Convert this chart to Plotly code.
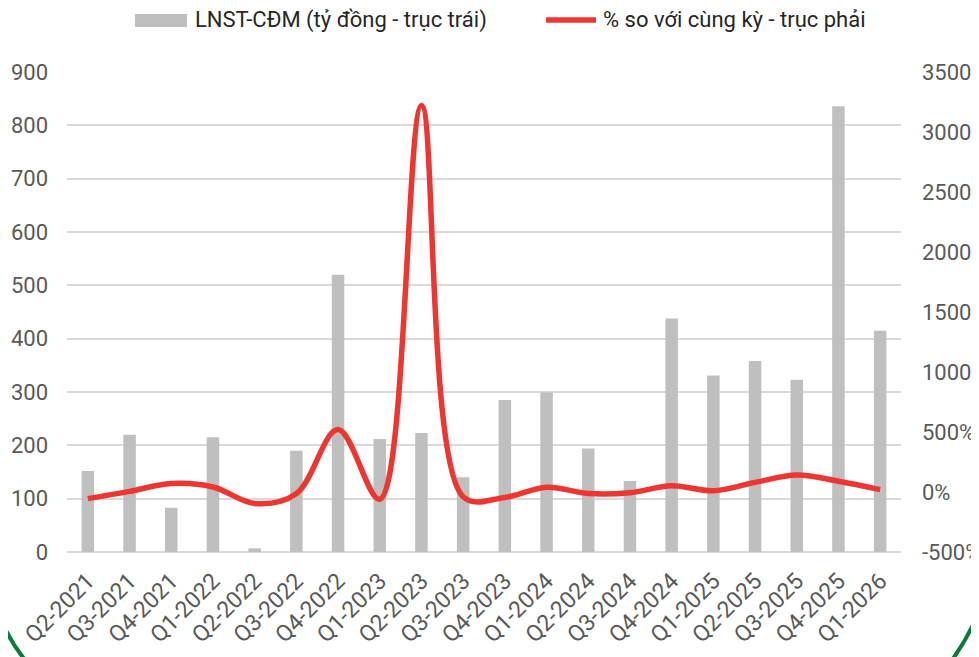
import plotly.graph_objects as go

quarters = ["Q2-2021", "Q3-2021", "Q4-2021", "Q1-2022", "Q2-2022", "Q3-2022", "Q4-2022",
            "Q1-2023", "Q2-2023", "Q3-2023", "Q4-2023", "Q1-2024", "Q2-2024", "Q3-2024",
            "Q4-2024", "Q1-2025", "Q2-2025", "Q3-2025", "Q4-2025", "Q1-2026"]

profit = [152, 220, 83, 215, 7, 190, 520, 212, 223, 140, 285, 299, 194, 133, 438, 331, 358, 323, 836, 415]
yoy_pct = [-55, 5, 70, 42, -95, -14, 520, -60, 3220, -40, -45, 40, -13, -6, 52, 10, 80, 142, 90, 20]

left_ticks = list(range(0, 1000, 100))
right_ticks = list(range(-500, 4000, 500))
right_tick_text = [f"{v}%" for v in right_ticks]

FONT = "Liberation Sans Narrow, Roboto, Open Sans, sans-serif"
GRAY_TXT = "#595959"
BAR_COLOR = "#bfbfbf"
LINE_COLOR = "#ef3530"

fig = go.Figure()
fig.add_trace(go.Bar(x=quarters, y=profit, marker_color=BAR_COLOR, marker_line_width=0,
                     name="LNST-CĐM (tỷ đồng - trục trái)", showlegend=False))
fig.add_trace(go.Scatter(x=quarters, y=yoy_pct, yaxis="y2", mode="lines",
                         line=dict(color=LINE_COLOR, width=5.5, shape="spline", smoothing=1.0),
                         name="% so với cùng kỳ - trục phải", showlegend=False))

# page body has an 8px margin, so the figure is 8px smaller and all page coords shift by 8
OFF = 8
W, H = 979 - OFF, 657 - OFF
L, T = 67 - OFF, 72 - OFF
R = W - (901 - OFF)
B = H - (552 - OFF)
PW, PH = W - L - R, H - T - B

def px(x):
    return (x - OFF - L) / PW

def py(y):
    return (H - B - (y - OFF)) / PH

shapes = []
annotations = []
# legend: gray swatch + red line
shapes.append(dict(type="rect", xref="paper", yref="paper", x0=px(135), x1=px(187), y0=py(27), y1=py(14),
                   fillcolor=BAR_COLOR, line_width=0))
shapes.append(dict(type="line", xref="paper", yref="paper", x0=px(546), x1=px(596), y0=py(20), y1=py(20),
                   line=dict(color=LINE_COLOR, width=5.5)))
annotations.append(dict(text="LNST-CĐM (tỷ đồng - trục trái)", xref="paper", yref="paper",
                        x=px(193), y=py(20), xanchor="left", yanchor="middle", showarrow=False,
                        font=dict(family=FONT, size=22, color="#262626")))
annotations.append(dict(text="% so với cùng kỳ - trục phải", xref="paper", yref="paper",
                        x=px(601), y=py(20), xanchor="left", yanchor="middle", showarrow=False,
                        font=dict(family=FONT, size=22, color="#262626")))
# decorative green frame arcs at the bottom corners
shapes.append(dict(type="path", xref="paper", yref="paper",
                   path=f"M {px(-6)} {py(600)} Q {px(6)} {py(640)} {px(32)} {py(668)}",
                   line=dict(color="#0e7a3a", width=4)))
shapes.append(dict(type="path", xref="paper", yref="paper",
                   path=f"M {px(985)} {py(595)} Q {px(972)} {py(635)} {px(946)} {py(668)}",
                   line=dict(color="#0e7a3a", width=4)))

fig.update_layout(
    width=W, height=H,
    margin=dict(l=L, r=R, t=T, b=B, autoexpand=False),
    paper_bgcolor="white", plot_bgcolor="white",
    bargap=0.7,
    showlegend=False,
    shapes=shapes,
    annotations=annotations,
    xaxis=dict(type="category", tickangle=-45, showgrid=False, showline=False, zeroline=False,
               ticks="", ticklabelstandoff=10,
               tickfont=dict(family=FONT, size=23, color=GRAY_TXT), automargin=False,
               range=[-0.5, len(quarters) - 0.5]),
    yaxis=dict(range=[0, 900], tickvals=left_ticks, showgrid=True, gridcolor="#d9d9d9", gridwidth=1.5,
               zeroline=True, zerolinecolor="#d9d9d9", zerolinewidth=2, showline=False, ticks="",
               ticklabelstandoff=18,
               tickfont=dict(family=FONT, size=22, color=GRAY_TXT), automargin=False),
    yaxis2=dict(range=[-500, 3500], tickvals=right_ticks, ticktext=right_tick_text, overlaying="y",
                side="right", showgrid=False, zeroline=False, showline=False, ticks="",
                ticklabelstandoff=20,
                tickfont=dict(family=FONT, size=22, color=GRAY_TXT), automargin=False),
)

fig.write_html("out.html")
